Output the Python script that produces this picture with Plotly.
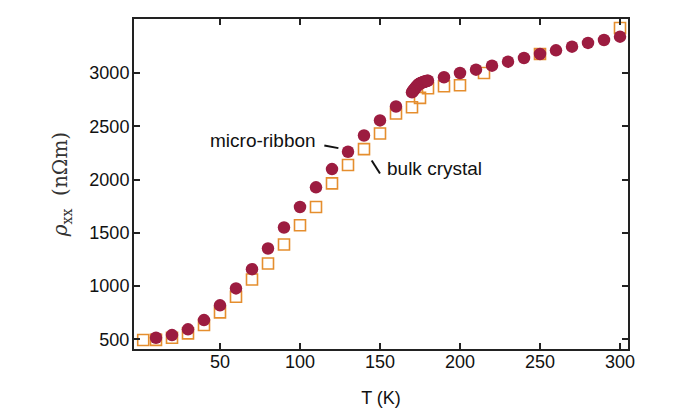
import plotly.graph_objects as go

# micro-ribbon (filled circles)
ribbon_T = [10, 20, 30, 40, 50, 60, 70, 80, 90, 100, 110, 120, 130, 140, 150, 160,
            170, 170.5, 171, 171.5, 172, 172.5, 173, 173.5, 174, 174.5, 175, 175.5,
            176, 176.5, 177, 177.5, 178, 178.5, 179, 179.5, 180,
            190, 200, 210, 220, 230, 240, 250, 260, 270, 280, 290, 300]
ribbon_rho = [515, 540, 594, 681, 819, 978, 1159, 1353, 1550, 1743, 1928, 2099, 2262, 2415, 2556, 2687,
              2820, 2830, 2840, 2850, 2860, 2869, 2878, 2886, 2893, 2898, 2903, 2907,
              2910, 2913, 2916, 2919, 2921, 2923, 2925, 2928, 2930,
              2962, 3002, 3033, 3071, 3108, 3143, 3180, 3215, 3249, 3284, 3312, 3343]

# bulk crystal (open squares)
bulk_T = [2, 10, 20, 30, 40, 50, 60, 70, 80, 90, 100, 110, 120, 130, 140, 150, 160,
          170, 175, 180, 190, 200, 215, 250, 300]
bulk_rho = [493, 495, 515, 556, 634, 753, 900, 1062, 1212, 1390, 1571, 1743, 1965, 2137, 2287, 2434, 2621,
            2680, 2768, 2858, 2877, 2886, 3002, 3180, 3424]

x_ticks = [50, 100, 150, 200, 250, 300]
y_ticks = [500, 1000, 1500, 2000, 2500, 3000]

RIBBON_C = "#9C1C40"
BULK_C = "#E58E2E"
FONT = "Liberation Sans, Arial, sans-serif"

fig = go.Figure()
fig.add_trace(go.Scatter(
    x=bulk_T, y=bulk_rho, mode="markers", name="bulk crystal",
    marker=dict(symbol="square-open", size=11, color=BULK_C, line=dict(width=1.6, color=BULK_C)),
))
fig.add_trace(go.Scatter(
    x=ribbon_T, y=ribbon_rho, mode="markers", name="micro-ribbon",
    marker=dict(symbol="circle", size=12.5, color=RIBBON_C, line=dict(width=0)),
))

axis_common = dict(
    showline=True, linecolor="#222", linewidth=2, mirror="allticks",
    ticks="inside", ticklen=6, tickwidth=1.6, tickcolor="#222",
    showgrid=False, zeroline=False,
    tickfont=dict(family=FONT, size=18, color="#111"),
)

fig.update_xaxes(
    range=[-3.75, 305], tickvals=x_ticks, ticktext=[str(v) for v in x_ticks],
    ticklabelstandoff=-5,
    title=dict(text="T (K)", font=dict(family=FONT, size=18, color="#111"), standoff=21),
    **axis_common,
)
fig.update_yaxes(
    range=[409, 3509], tickvals=y_ticks, ticktext=[str(v) for v in y_ticks],
    ticklabelstandoff=-1,
    title=dict(text="<i>ρ</i><sub>xx</sub>  (nΩm)",
               font=dict(family="DejaVu Serif, Liberation Serif, serif", size=20, color="#333"),
               standoff=16),
    **axis_common,
)

fig.add_annotation(x=111.25, y=2368, text="micro-ribbon", showarrow=False,
                   xanchor="right", yanchor="middle",
                   font=dict(family=FONT, size=19, color="#111"))
fig.add_annotation(x=153.1, y=2105, text="bulk crystal", showarrow=False,
                   xanchor="left", yanchor="middle",
                   font=dict(family=FONT, size=19, color="#111"))
fig.add_shape(type="line", x0=115.2, y0=2321, x1=124, y1=2296,
              line=dict(color="#111", width=2))
fig.add_shape(type="line", x0=144.8, y0=2180, x1=150, y1=2058,
              line=dict(color="#111", width=2))

fig.update_layout(
    width=688, height=417,
    margin=dict(l=134, r=60, t=19, b=68, autoexpand=False),
    plot_bgcolor="white", paper_bgcolor="white",
    showlegend=False,
)

fig.write_html("out.html")
